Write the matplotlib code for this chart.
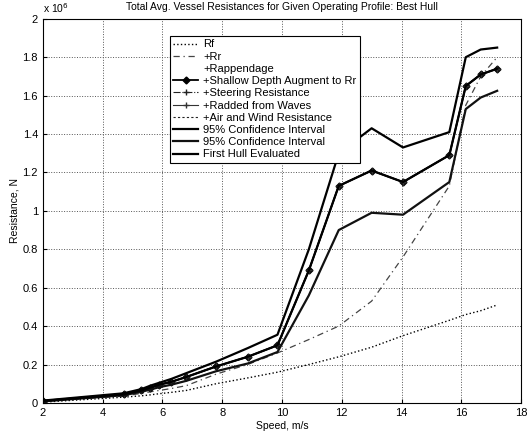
import matplotlib
matplotlib.use('Agg')
from matplotlib import pyplot as plt
from matplotlib.ticker import FuncFormatter, MultipleLocator

plt.rcParams['font.family'] = ['Liberation Sans', 'DejaVu Sans']

# Velocidades avaliadas (m/s)
speed = [2.0, 4.7, 5.3, 5.6, 5.9, 6.3, 6.8, 7.8, 8.85, 9.85,
         10.9, 11.9, 13.0, 14.05, 15.6, 16.15, 16.65, 17.2]

# Resistencias acumuladas (N)
rf = [0.004e6, 0.03e6, 0.037e6, 0.042e6, 0.048e6, 0.055e6, 0.065e6, 0.10e6, 0.13e6, 0.16e6,
      0.20e6, 0.24e6, 0.29e6, 0.35e6, 0.43e6, 0.46e6, 0.48e6, 0.51e6]
rr = [0.008e6, 0.035e6, 0.05e6, 0.058e6, 0.065e6, 0.075e6, 0.09e6, 0.15e6, 0.20e6, 0.26e6,
      0.33e6, 0.40e6, 0.53e6, 0.76e6, 1.13e6, 1.55e6, 1.70e6, 1.80e6]
total = [0.01e6, 0.045e6, 0.065e6, 0.08e6, 0.095e6, 0.11e6, 0.135e6, 0.19e6, 0.24e6, 0.30e6,
         0.69e6, 1.13e6, 1.21e6, 1.15e6, 1.29e6, 1.65e6, 1.71e6, 1.74e6]
ci_upper = [0.012e6, 0.05e6, 0.072e6, 0.09e6, 0.105e6, 0.125e6, 0.155e6, 0.215e6, 0.285e6, 0.355e6,
            0.80e6, 1.30e6, 1.43e6, 1.33e6, 1.41e6, 1.80e6, 1.84e6, 1.85e6]
ci_lower = [0.008e6, 0.04e6, 0.058e6, 0.07e6, 0.082e6, 0.095e6, 0.115e6, 0.165e6, 0.205e6, 0.265e6,
            0.56e6, 0.90e6, 0.99e6, 0.98e6, 1.15e6, 1.53e6, 1.59e6, 1.625e6]

fig = plt.figure(figsize=(5.29, 4.37), dpi=100)
ax = fig.add_axes([0.081, 0.078, 0.904, 0.879])

ax.plot(speed, rf, color='k', linestyle=':', lw=1.0, label='Rf')
ax.plot(speed, rr, color='#444444', linestyle=(0, (5, 3, 1, 3)), lw=0.9, label='+Rr')
ax.plot(speed, rr, color='white', lw=0.0, label='+Rappendage')
ax.plot(speed, total, color='k', lw=1.3, marker='D', ms=3.5, label='+Shallow Depth Augment to Rr')
ax.plot(speed, total, color='#222222', linestyle='-.', lw=0.8, marker='+', ms=4,
        label='+Steering Resistance')
ax.plot(speed, total, color='#333333', lw=0.8, marker='+', ms=5, label='+Radded from Waves')
ax.plot(speed, total, color='#222222', linestyle=(0, (2, 2)), lw=0.8,
        label='+Air and Wind Resistance')
ax.plot(speed, ci_upper, color='k', lw=1.6, label='95% Confidence Interval')
ax.plot(speed, ci_lower, color='#111111', lw=1.6, label='95% Confidence Interval')
ax.plot(speed, total, color='k', lw=1.6, label='First Hull Evaluated')

ax.set_xlim(2, 18)
ax.set_ylim(0, 2e6)
ax.xaxis.set_major_locator(MultipleLocator(2))
ax.yaxis.set_major_locator(MultipleLocator(0.2e6))
ax.yaxis.set_major_formatter(FuncFormatter(lambda v, p: '%g' % round(v / 1e6, 1)))
ax.tick_params(labelsize=8, direction='in', length=3)
ax.grid(True, linestyle=':', color='#555555', lw=0.7)

ax.set_title('Total Avg. Vessel Resistances for Given Operating Profile: Best Hull',
             fontsize=7.5, pad=6)
ax.set_xlabel('Speed, m/s', fontsize=7.5, labelpad=2)
ax.set_ylabel('Resistance, N', fontsize=7.5, labelpad=2)
ax.text(0.0, 1.01, r'x 10$^6$', transform=ax.transAxes, fontsize=7.5, va='bottom', ha='left')

leg = ax.legend(loc='upper left', bbox_to_anchor=(0.266, 0.955), fontsize=8,
                frameon=True, fancybox=False, edgecolor='k', framealpha=1,
                labelspacing=0.2, handlelength=2.2, handletextpad=0.5,
                borderpad=0.3, borderaxespad=0)
leg.get_frame().set_linewidth(0.8)

plt.savefig('out.png', dpi=100)
